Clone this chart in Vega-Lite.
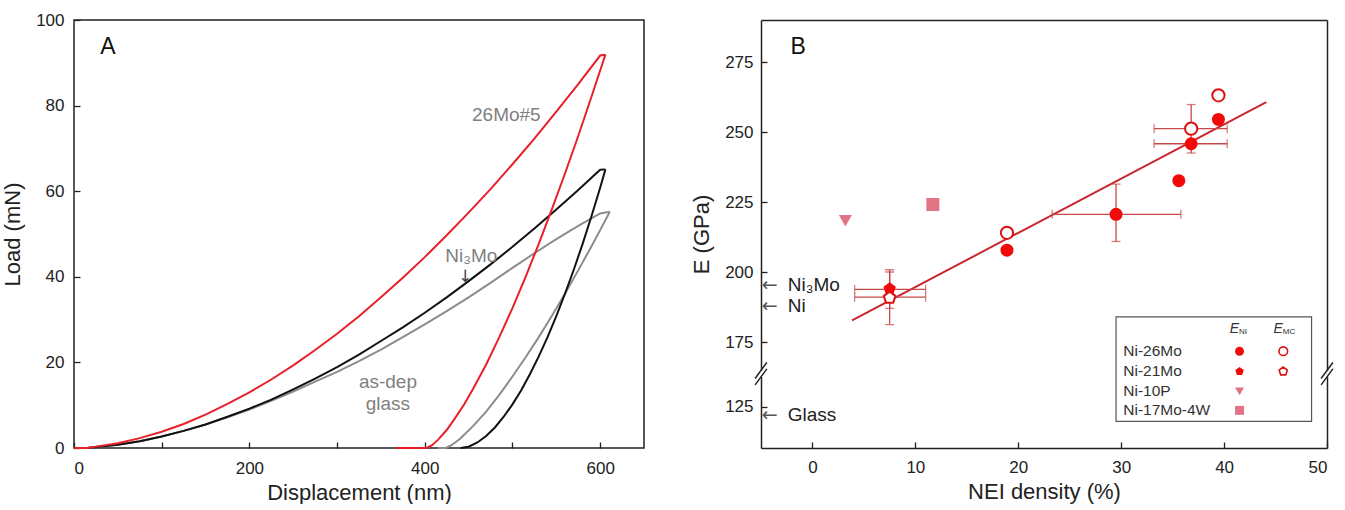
{
  "$schema": "https://vega.github.io/schema/vega-lite/v6.json",
  "padding": {"left": 0, "top": 10, "right": 5, "bottom": 0},
  "spacing": 45,
  "resolve": {"scale": {"color": "independent", "shape": "independent"}},
  "config": {
    "font": "Liberation Sans",
    "view": {"stroke": null},
    "axis": {
      "labelFont": "Liberation Sans", "titleFont": "Liberation Sans",
      "labelFontSize": 17, "titleFontSize": 22, "titleFontWeight": "normal",
      "labelColor": "#222", "titleColor": "#222", "tickColor": "#222", "domainColor": "#222",
      "tickSize": -6, "tickWidth": 1.3, "grid": false, "domainWidth": 1.5
    }
  },
  "datasets": {
    "curves": [
      {"seg":"gL","s":"g","h":0,"p":0},{"seg":"gL","s":"g","h":15,"p":0},{"seg":"gL","s":"g","h":25,"p":0.23},{"seg":"gL","s":"g","h":50,"p":0.78},{"seg":"gL","s":"g","h":75,"p":1.6},{"seg":"gL","s":"g","h":100,"p":2.7},{"seg":"gL","s":"g","h":125,"p":4.0},{"seg":"gL","s":"g","h":150,"p":5.5},{"seg":"gL","s":"g","h":175,"p":7.2},{"seg":"gL","s":"g","h":200,"p":9.0},{"seg":"gL","s":"g","h":225,"p":11.0},{"seg":"gL","s":"g","h":250,"p":13.2},{"seg":"gL","s":"g","h":275,"p":15.5},{"seg":"gL","s":"g","h":300,"p":17.8},{"seg":"gL","s":"g","h":325,"p":20.3},{"seg":"gL","s":"g","h":350,"p":23.0},{"seg":"gL","s":"g","h":375,"p":25.9},{"seg":"gL","s":"g","h":400,"p":28.9},{"seg":"gL","s":"g","h":425,"p":32.0},{"seg":"gL","s":"g","h":450,"p":35.2},{"seg":"gL","s":"g","h":475,"p":38.6},{"seg":"gL","s":"g","h":500,"p":42.1},{"seg":"gL","s":"g","h":525,"p":45.5},{"seg":"gL","s":"g","h":550,"p":48.8},{"seg":"gL","s":"g","h":575,"p":51.9},{"seg":"gL","s":"g","h":600,"p":54.8},{"seg":"gL","s":"g","h":611,"p":55.2},
      {"seg":"gU","s":"g","h":611,"p":55.2},{"seg":"gU","s":"g","h":600,"p":50.9},{"seg":"gU","s":"g","h":590,"p":47.1},{"seg":"gU","s":"g","h":575,"p":41.5},{"seg":"gU","s":"g","h":560,"p":36.1},{"seg":"gU","s":"g","h":545,"p":30.9},{"seg":"gU","s":"g","h":530,"p":25.9},{"seg":"gU","s":"g","h":515,"p":21.2},{"seg":"gU","s":"g","h":500,"p":16.7},{"seg":"gU","s":"g","h":485,"p":12.4},{"seg":"gU","s":"g","h":470,"p":8.5},{"seg":"gU","s":"g","h":455,"p":5.1},{"seg":"gU","s":"g","h":440,"p":2.1},{"seg":"gU","s":"g","h":430,"p":0.6},{"seg":"gU","s":"g","h":424,"p":0},{"seg":"gU","s":"g","h":415,"p":0},
      {"seg":"kL","s":"k","h":0,"p":0},{"seg":"kL","s":"k","h":15,"p":0},{"seg":"kL","s":"k","h":25,"p":0.23},{"seg":"kL","s":"k","h":50,"p":0.78},{"seg":"kL","s":"k","h":75,"p":1.6},{"seg":"kL","s":"k","h":100,"p":2.7},{"seg":"kL","s":"k","h":125,"p":4.0},{"seg":"kL","s":"k","h":150,"p":5.5},{"seg":"kL","s":"k","h":175,"p":7.3},{"seg":"kL","s":"k","h":200,"p":9.2},{"seg":"kL","s":"k","h":225,"p":11.3},{"seg":"kL","s":"k","h":250,"p":13.7},{"seg":"kL","s":"k","h":275,"p":16.2},{"seg":"kL","s":"k","h":300,"p":18.9},{"seg":"kL","s":"k","h":325,"p":21.8},{"seg":"kL","s":"k","h":350,"p":25.0},{"seg":"kL","s":"k","h":375,"p":28.2},{"seg":"kL","s":"k","h":400,"p":31.6},{"seg":"kL","s":"k","h":425,"p":35.2},{"seg":"kL","s":"k","h":450,"p":39.0},{"seg":"kL","s":"k","h":475,"p":42.9},{"seg":"kL","s":"k","h":500,"p":47.0},{"seg":"kL","s":"k","h":525,"p":51.3},{"seg":"kL","s":"k","h":550,"p":55.7},{"seg":"kL","s":"k","h":575,"p":60.3},{"seg":"kL","s":"k","h":600,"p":65.0},{"seg":"kL","s":"k","h":606,"p":65.1},
      {"seg":"kU","s":"k","h":606,"p":65.1},{"seg":"kU","s":"k","h":600,"p":60.8},{"seg":"kU","s":"k","h":590,"p":54.1},{"seg":"kU","s":"k","h":580,"p":47.7},{"seg":"kU","s":"k","h":570,"p":41.7},{"seg":"kU","s":"k","h":560,"p":36.1},{"seg":"kU","s":"k","h":550,"p":30.8},{"seg":"kU","s":"k","h":540,"p":25.9},{"seg":"kU","s":"k","h":530,"p":21.4},{"seg":"kU","s":"k","h":520,"p":17.3},{"seg":"kU","s":"k","h":510,"p":13.5},{"seg":"kU","s":"k","h":500,"p":10.2},{"seg":"kU","s":"k","h":490,"p":7.3},{"seg":"kU","s":"k","h":480,"p":4.8},{"seg":"kU","s":"k","h":470,"p":2.8},{"seg":"kU","s":"k","h":460,"p":1.3},{"seg":"kU","s":"k","h":450,"p":0.3},{"seg":"kU","s":"k","h":441,"p":0},
      {"seg":"rL","s":"r","h":0,"p":0},{"seg":"rL","s":"r","h":15,"p":0},{"seg":"rL","s":"r","h":25,"p":0.32},{"seg":"rL","s":"r","h":50,"p":1.1},{"seg":"rL","s":"r","h":75,"p":2.3},{"seg":"rL","s":"r","h":100,"p":3.8},{"seg":"rL","s":"r","h":125,"p":5.6},{"seg":"rL","s":"r","h":150,"p":7.8},{"seg":"rL","s":"r","h":175,"p":10.3},{"seg":"rL","s":"r","h":200,"p":13.0},{"seg":"rL","s":"r","h":225,"p":16.0},{"seg":"rL","s":"r","h":250,"p":19.3},{"seg":"rL","s":"r","h":275,"p":22.9},{"seg":"rL","s":"r","h":300,"p":26.7},{"seg":"rL","s":"r","h":325,"p":30.8},{"seg":"rL","s":"r","h":350,"p":35.2},{"seg":"rL","s":"r","h":375,"p":39.8},{"seg":"rL","s":"r","h":400,"p":44.6},{"seg":"rL","s":"r","h":425,"p":49.7},{"seg":"rL","s":"r","h":450,"p":55.0},{"seg":"rL","s":"r","h":475,"p":60.5},{"seg":"rL","s":"r","h":500,"p":66.3},{"seg":"rL","s":"r","h":525,"p":72.3},{"seg":"rL","s":"r","h":550,"p":78.6},{"seg":"rL","s":"r","h":575,"p":85.0},{"seg":"rL","s":"r","h":600,"p":91.7},{"seg":"rL","s":"r","h":606,"p":91.9},
      {"seg":"rU","s":"r","h":606,"p":91.9},{"seg":"rU","s":"r","h":600,"p":88.2},{"seg":"rU","s":"r","h":590,"p":82.0},{"seg":"rU","s":"r","h":575,"p":72.9},{"seg":"rU","s":"r","h":560,"p":64.2},{"seg":"rU","s":"r","h":545,"p":55.8},{"seg":"rU","s":"r","h":530,"p":47.7},{"seg":"rU","s":"r","h":515,"p":40.0},{"seg":"rU","s":"r","h":500,"p":32.7},{"seg":"rU","s":"r","h":485,"p":25.9},{"seg":"rU","s":"r","h":470,"p":19.5},{"seg":"rU","s":"r","h":455,"p":13.8},{"seg":"rU","s":"r","h":445,"p":10.2},{"seg":"rU","s":"r","h":435,"p":7.1},{"seg":"rU","s":"r","h":425,"p":4.2},{"seg":"rU","s":"r","h":415,"p":1.9},{"seg":"rU","s":"r","h":408,"p":0.6},{"seg":"rU","s":"r","h":402,"p":0},{"seg":"rU","s":"r","h":367,"p":0}
    ],
    "pts": [
      {"alloy":"Ni-21Mo","x":7.5,"y":194.0},
      {"alloy":"Ni-26Mo","x":18.9,"y":207.8},
      {"alloy":"Ni-26Mo","x":29.5,"y":220.6},
      {"alloy":"Ni-26Mo","x":35.6,"y":232.6},
      {"alloy":"Ni-26Mo","x":36.8,"y":245.8},
      {"alloy":"Ni-26Mo","x":39.45,"y":254.5},
      {"alloy":"Ni-10P","x":3.2,"y":218.3},
      {"alloy":"Ni-17Mo-4W","x":11.7,"y":224.1}
    ],
    "open": [
      {"alloy":"Ni-21Mo","x":7.5,"y":190.8},
      {"alloy":"Ni-26Mo","x":18.9,"y":214.0},
      {"alloy":"Ni-26Mo","x":36.8,"y":251.2},
      {"alloy":"Ni-26Mo","x":39.45,"y":263.1}
    ],
    "ebh": [
      {"xlo":4.1,"xhi":11.0,"y":193.8},
      {"xlo":4.1,"xhi":11.0,"y":191.0},
      {"xlo":23.3,"xhi":35.8,"y":220.6},
      {"xlo":33.2,"xhi":40.3,"y":245.8},
      {"xlo":33.2,"xhi":40.3,"y":251.2}
    ],
    "ebv": [
      {"x":7.5,"ylo":187.0,"yhi":200.8},
      {"x":7.5,"ylo":181.2,"yhi":200.0},
      {"x":29.5,"ylo":210.9,"yhi":231.4},
      {"x":36.8,"ylo":242.5,"yhi":259.8}
    ],
    "legFilled": [
      {"alloy":"Ni-26Mo","x":41.5,"y":171.7},
      {"alloy":"Ni-21Mo","x":41.5,"y":164.5},
      {"alloy":"Ni-10P","x":41.5,"y":130.6},
      {"alloy":"Ni-17Mo-4W","x":41.5,"y":123.8}
    ],
    "legOpen": [
      {"alloy":"Ni-26Mo","x":45.75,"y":171.7},
      {"alloy":"Ni-21Mo","x":45.75,"y":164.5}
    ]
  },
  "hconcat": [
    {
      "width": 570,
      "height": 428,
      "view": {"stroke": "#222", "strokeWidth": 1.5},
      "layer": [
        {
          "data": {"name": "curves"},
          "mark": {"type": "line", "strokeWidth": 2},
          "encoding": {
            "x": {"field": "h", "type": "quantitative", "scale": {"domain": [0, 650], "nice": false, "zero": false},
                  "axis": {"values": [0,100,200,300,400,500,600], "labelExpr": "datum.value % 200 == 0 ? datum.label : ''", "title": "Displacement (nm)", "labelPadding": 18, "titlePadding": 6, "domain": false}},
            "y": {"field": "p", "type": "quantitative", "scale": {"domain": [0, 100], "nice": false},
                  "axis": {"values": [0,20,40,60,80,100], "title": "Load (mN)", "labelPadding": 16, "titlePadding": 11, "domain": false}},
            "detail": {"field": "seg"},
            "color": {"field": "s", "type": "nominal", "scale": {"domain": ["g","k","r"], "range": ["#8c8c8c","#111111","#e8202a"]}, "legend": null}
          }
        },
        {
          "data": {"values": [
            {"t":"26Mo#5","h":493,"p":77.9},
            {"t":"Ni\u2083Mo","h":453,"p":44.8},
            {"t":"as-dep","h":358,"p":15.5},
            {"t":"glass","h":358,"p":10.3}
          ]},
          "mark": {"type": "text", "fontSize": 19, "color": "#7f7f7f"},
          "encoding": {
            "x": {"field": "h", "type": "quantitative"},
            "y": {"field": "p", "type": "quantitative"},
            "text": {"field": "t"}
          }
        },
        {
          "data": {"values": [{"t":"\u2193","h":446,"p":40.0}]},
          "mark": {"type": "text", "fontSize": 17, "font": "DejaVu Sans", "color": "#444"},
          "encoding": {
            "x": {"field": "h", "type": "quantitative"},
            "y": {"field": "p", "type": "quantitative"},
            "text": {"field": "t"}
          }
        },
        {
          "data": {"values": [{"t":"A","h":38.6,"p":93.7}]},
          "mark": {"type": "text", "fontSize": 23, "color": "#111"},
          "encoding": {
            "x": {"field": "h", "type": "quantitative"},
            "y": {"field": "p", "type": "quantitative"},
            "text": {"field": "t"}
          }
        }
      ]
    },
    {
      "width": 566,
      "height": 428,
      "resolve": {"axis": {"x": "independent", "y": "independent"}},
      "layer": [
        {
          "data": {"values": [{"x1":3.85,"y1":182.7,"x2":44.1,"y2":260.7}]},
          "mark": {"type": "rule", "color": "#c8282d", "strokeWidth": 2},
          "encoding": {
            "x": {"field": "x1", "type": "quantitative", "scale": {"domain": [-5, 50], "nice": false, "zero": false},
                  "axis": {"orient": "bottom", "values": [0,10,20,30,40,50], "title": "NEI density (%)", "labelPadding": 17, "titlePadding": 6}},
            "x2": {"field": "x2"},
            "y": {"field": "y1", "type": "quantitative", "scale": {"domain": [110.36, 136.89, 163.68, 290], "range": [428, 353.7, 353.7, 0], "nice": false, "zero": false},
                  "axis": {"orient": "left", "values": [125,175,200,225,250,275], "title": "E (GPa)", "labelPadding": 14, "titlePadding": 11}},
            "y2": {"field": "y2"}
          }
        },
        {
          "data": {"values": [{"x":-5,"ya":164.8,"yb":135.7},{"x":50,"ya":164.8,"yb":135.7}]},
          "mark": {"type": "rule", "color": "white", "strokeWidth": 5},
          "encoding": {
            "x": {"field": "x", "type": "quantitative", "axis": {"orient": "top", "labels": false, "ticks": false, "title": null}},
            "y": {"field": "ya", "type": "quantitative", "axis": {"orient": "right", "labels": false, "ticks": false, "title": null}},
            "y2": {"field": "yb"}
          }
        },
        {
          "data": {"values": [
            {"xa":-5.57,"ya":135.2,"xb":-4.43,"yb":167.7},
            {"xa":-5.57,"ya":132.9,"xb":-4.43,"yb":165.4},
            {"xa":49.43,"ya":135.2,"xb":50.57,"yb":167.7},
            {"xa":49.43,"ya":132.9,"xb":50.57,"yb":165.4}
          ]},
          "mark": {"type": "rule", "color": "#222", "strokeWidth": 1.5},
          "encoding": {
            "x": {"field": "xa", "type": "quantitative", "axis": null},
            "x2": {"field": "xb"},
            "y": {"field": "ya", "type": "quantitative", "axis": null},
            "y2": {"field": "yb"}
          }
        },
        {
          "data": {"name": "ebh"},
          "mark": {"type": "rule", "color": "#c84848", "strokeWidth": 1.3},
          "encoding": {
            "x": {"field": "xlo", "type": "quantitative", "axis": null},
            "x2": {"field": "xhi"},
            "y": {"field": "y", "type": "quantitative", "axis": null}
          }
        },
        {
          "data": {"name": "ebh"},
          "mark": {"type": "tick", "color": "#c84848", "orient": "vertical", "size": 9, "thickness": 1.3},
          "encoding": {
            "x": {"field": "xlo", "type": "quantitative", "axis": null},
            "y": {"field": "y", "type": "quantitative", "axis": null}
          }
        },
        {
          "data": {"name": "ebh"},
          "mark": {"type": "tick", "color": "#c84848", "orient": "vertical", "size": 9, "thickness": 1.3},
          "encoding": {
            "x": {"field": "xhi", "type": "quantitative", "axis": null},
            "y": {"field": "y", "type": "quantitative", "axis": null}
          }
        },
        {
          "data": {"name": "ebv"},
          "mark": {"type": "rule", "color": "#c84848", "strokeWidth": 1.3},
          "encoding": {
            "x": {"field": "x", "type": "quantitative", "axis": null},
            "y": {"field": "ylo", "type": "quantitative", "axis": null},
            "y2": {"field": "yhi"}
          }
        },
        {
          "data": {"name": "ebv"},
          "mark": {"type": "tick", "color": "#c84848", "orient": "horizontal", "size": 9, "thickness": 1.3},
          "encoding": {
            "x": {"field": "x", "type": "quantitative", "axis": null},
            "y": {"field": "ylo", "type": "quantitative", "axis": null}
          }
        },
        {
          "data": {"name": "ebv"},
          "mark": {"type": "tick", "color": "#c84848", "orient": "horizontal", "size": 9, "thickness": 1.3},
          "encoding": {
            "x": {"field": "x", "type": "quantitative", "axis": null},
            "y": {"field": "yhi", "type": "quantitative", "axis": null}
          }
        },
        {
          "data": {"name": "pts"},
          "mark": {"type": "point", "filled": true, "opacity": 1, "size": 170},
          "encoding": {
            "x": {"field": "x", "type": "quantitative", "axis": null},
            "y": {"field": "y", "type": "quantitative", "axis": null},
            "shape": {"field": "alloy", "type": "nominal", "scale": {"domain": ["Ni-26Mo","Ni-21Mo","Ni-10P","Ni-17Mo-4W"], "range": ["circle","M0,-1L0.951,-0.309L0.588,0.809L-0.588,0.809L-0.951,-0.309Z","triangle-down","square"]}, "legend": null},
            "color": {"field": "alloy", "type": "nominal", "scale": {"domain": ["Ni-26Mo","Ni-21Mo","Ni-10P","Ni-17Mo-4W"], "range": ["#f20a0a","#f20a0a","#e27585","#e27585"]}, "legend": null}
          }
        },
        {
          "data": {"name": "open"},
          "mark": {"type": "point", "filled": true, "fill": "white", "stroke": "#e01010", "strokeWidth": 2, "opacity": 1, "size": 150},
          "encoding": {
            "x": {"field": "x", "type": "quantitative", "axis": null},
            "y": {"field": "y", "type": "quantitative", "axis": null},
            "shape": {"field": "alloy", "type": "nominal", "legend": null}
          }
        },
        {
          "data": {"values": [{"x1":29.5,"x2":48.5,"y1":184,"y2":119.9}]},
          "mark": {"type": "rect", "fill": "white", "stroke": "#555", "strokeWidth": 1.2},
          "encoding": {
            "x": {"field": "x1", "type": "quantitative", "axis": null},
            "x2": {"field": "x2"},
            "y": {"field": "y1", "type": "quantitative", "axis": null},
            "y2": {"field": "y2"}
          }
        },
        {
          "data": {"values": [
            {"t":"Ni-26Mo","x":30.2,"y":171.7},
            {"t":"Ni-21Mo","x":30.2,"y":164.5},
            {"t":"Ni-10P","x":30.2,"y":130.6},
            {"t":"Ni-17Mo-4W","x":30.2,"y":123.8}
          ]},
          "mark": {"type": "text", "align": "left", "fontSize": 15.5, "color": "#333"},
          "encoding": {
            "x": {"field": "x", "type": "quantitative", "axis": null},
            "y": {"field": "y", "type": "quantitative", "axis": null},
            "text": {"field": "t"}
          }
        },
        {
          "data": {"name": "legFilled"},
          "mark": {"type": "point", "filled": true, "opacity": 1, "size": 80},
          "encoding": {
            "x": {"field": "x", "type": "quantitative", "axis": null},
            "y": {"field": "y", "type": "quantitative", "axis": null},
            "shape": {"field": "alloy", "type": "nominal", "legend": null},
            "color": {"field": "alloy", "type": "nominal", "legend": null}
          }
        },
        {
          "data": {"name": "legOpen"},
          "mark": {"type": "point", "filled": true, "fill": "white", "stroke": "#e01010", "strokeWidth": 1.6, "opacity": 1, "size": 75},
          "encoding": {
            "x": {"field": "x", "type": "quantitative", "axis": null},
            "y": {"field": "y", "type": "quantitative", "axis": null},
            "shape": {"field": "alloy", "type": "nominal", "legend": null}
          }
        },
        {
          "data": {"values": [{"t":"E","x":41.0,"y":179.5},{"t":"E","x":45.26,"y":179.5}]},
          "mark": {"type": "text", "fontSize": 14, "fontStyle": "italic", "color": "#333"},
          "encoding": {
            "x": {"field": "x", "type": "quantitative", "axis": null},
            "y": {"field": "y", "type": "quantitative", "axis": null},
            "text": {"field": "t"}
          }
        },
        {
          "data": {"values": [{"t":"NI","x":41.45,"y":178.4},{"t":"MC","x":45.7,"y":178.4}]},
          "mark": {"type": "text", "fontSize": 8, "align": "left", "color": "#333"},
          "encoding": {
            "x": {"field": "x", "type": "quantitative", "axis": null},
            "y": {"field": "y", "type": "quantitative", "axis": null},
            "text": {"field": "t"}
          }
        },
        {
          "data": {"values": [
            {"t":"\u2190","x":-4.15,"y":195.2},
            {"t":"\u2190","x":-4.15,"y":187.9},
            {"t":"\u2190","x":-4.15,"y":122.2}
          ]},
          "mark": {"type": "text", "fontSize": 19, "font": "DejaVu Sans", "color": "#555"},
          "encoding": {
            "x": {"field": "x", "type": "quantitative", "axis": null},
            "y": {"field": "y", "type": "quantitative", "axis": null},
            "text": {"field": "t"}
          }
        },
        {
          "data": {"values": [
            {"t":"Ni\u2083Mo","x":-2.4,"y":195.2},
            {"t":"Ni","x":-2.4,"y":187.9},
            {"t":"Glass","x":-2.4,"y":122.2}
          ]},
          "mark": {"type": "text", "fontSize": 19, "align": "left", "color": "#222"},
          "encoding": {
            "x": {"field": "x", "type": "quantitative", "axis": null},
            "y": {"field": "y", "type": "quantitative", "axis": null},
            "text": {"field": "t"}
          }
        },
        {
          "data": {"values": [{"t":"B","x":-1.38,"y":280.4}]},
          "mark": {"type": "text", "fontSize": 23, "color": "#111"},
          "encoding": {
            "x": {"field": "x", "type": "quantitative", "axis": null},
            "y": {"field": "y", "type": "quantitative", "axis": null},
            "text": {"field": "t"}
          }
        }
      ]
    }
  ]
}
